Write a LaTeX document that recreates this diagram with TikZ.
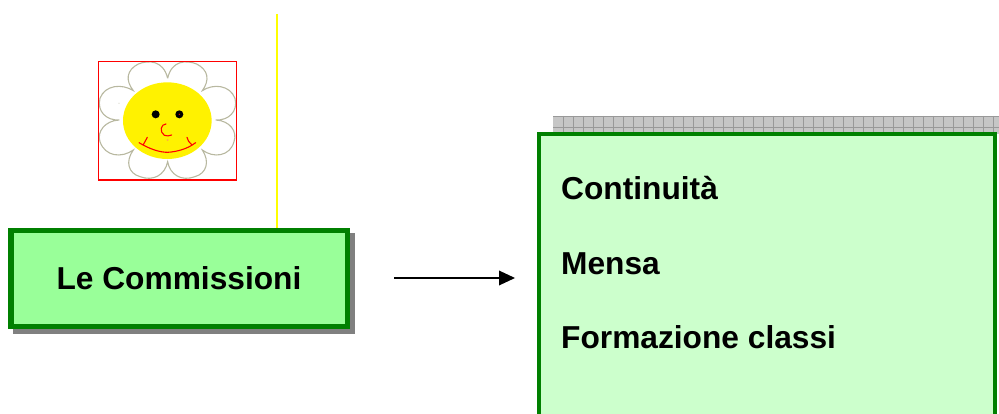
\documentclass[tikz,border=0pt]{standalone}
\usepackage{fontspec}
\setmainfont{Liberation Sans}
\definecolor{boxgreen}{HTML}{008000}
\definecolor{lightgreen}{HTML}{99FF99}
\definecolor{palegreen}{HTML}{CCFFCC}
\definecolor{petal}{HTML}{B8B8A0}
\definecolor{hatchbg}{HTML}{C6C6C6}
\definecolor{hatchline}{HTML}{999999}
\definecolor{lineyellow}{HTML}{FFFF00}
\tikzset{
  labeltext/.style={font=\bfseries\fontsize{31.7}{32}\selectfont, text=black, inner sep=0pt, anchor=base west},
  smileline/.style={draw=red, line width=1.1pt, line cap=round},
  petalline/.style={draw=petal, line width=1.1pt},
  mainbox/.style={draw=boxgreen, line width=5.5pt, inner sep=0pt}
}
\begin{document}
\begin{tikzpicture}[x=1pt,y=-1pt]
\useasboundingbox (0,0) rectangle (999,414);
% hatched band
\fill[hatchbg] (553,116) rectangle (999,134);
\foreach \gx in {563,573,...,999} \draw[hatchline,line width=0.8pt] (\gx,116) -- (\gx,134);
\draw[hatchline,line width=0.8pt] (553,116.5) -- (999,116.5);
\draw[hatchline,line width=0.8pt] (553,127) -- (999,127);
% yellow line
\draw[lineyellow,line width=1.3pt] (277,14) -- (277,228);
% flower
\begin{scope}[shift={(85,50)},x=0.3333pt,y=-0.3333pt]
\fill[yellow] (247,212) ellipse [x radius=133, y radius=115];
\draw[petalline] (248,85) .. controls (235,30) and (190,30) .. (160,42) .. controls (125,60) and (120,90) .. (145,122)
  .. controls (110,100) and (60,105) .. (45,145) .. controls (35,185) and (65,212) .. (103,210)
  .. controls (60,212) and (35,245) .. (45,275) .. controls (60,320) and (110,325) .. (145,300)
  .. controls (120,335) and (130,370) .. (165,380) .. controls (205,395) and (240,375) .. (248,335)
  .. controls (255,375) and (290,395) .. (330,380) .. controls (365,370) and (375,335) .. (352,300)
  .. controls (385,325) and (435,320) .. (447,275) .. controls (458,245) and (435,212) .. (392,210)
  .. controls (430,212) and (460,185) .. (450,145) .. controls (435,105) and (385,100) .. (352,122)
  .. controls (375,90) and (370,60) .. (335,42) .. controls (305,30) and (260,30) .. (248,85);
\fill[black] (212,193) circle [radius=12];
\fill[black] (283,193) circle [radius=12];
\fill[red] (283,193) circle [radius=2];
\draw[smileline] (243,222) .. controls (228,222) and (222,245) .. (238,256) .. controls (245,259) and (253,258) .. (260,255);
\draw[smileline] (162,278) .. controls (195,298) and (225,307) .. (248,307) .. controls (280,305) and (310,295) .. (332,278);
\draw[smileline] (175,284) -- (187,262);
\draw[smileline] (320,284) .. controls (312,278) and (308,270) .. (306,262);
\fill[orange!70] (248,270) circle [radius=3];
\fill[petal!60] (102,160) circle [radius=2];
\end{scope}
\draw[red,line width=1.2pt] (98.5,61.5) rectangle (236.5,180);
% left box
\fill[gray] (13,233) rectangle (355,334);
\node[mainbox, fill=lightgreen, minimum width=336.5pt, minimum height=95.5pt, anchor=north west, font=\bfseries\fontsize{31.7}{32}\selectfont] (comm) at (8,228) {Le Commissioni};
% right box
\fill[palegreen] (539,134) rectangle (995,420);
\draw[boxgreen,line width=4.5pt] (539,420) -- (539,134) -- (995,134) -- (995,420);
\node[labeltext] (l1) at (561,200) {Continuità};
\node[labeltext] (l2) at (561,274) {Mensa};
\node[labeltext] (l3) at (561,348) {Formazione classi};
% arrow
\coordinate (arrowend) at (515,278);
\coordinate (arrowstart) at (394,278);
\draw[line width=1.3pt] (arrowstart) -- (500,278);
\fill[black] (arrowend) -- (499,270.5) -- (499,285.5) -- cycle;
\end{tikzpicture}
\end{document}
